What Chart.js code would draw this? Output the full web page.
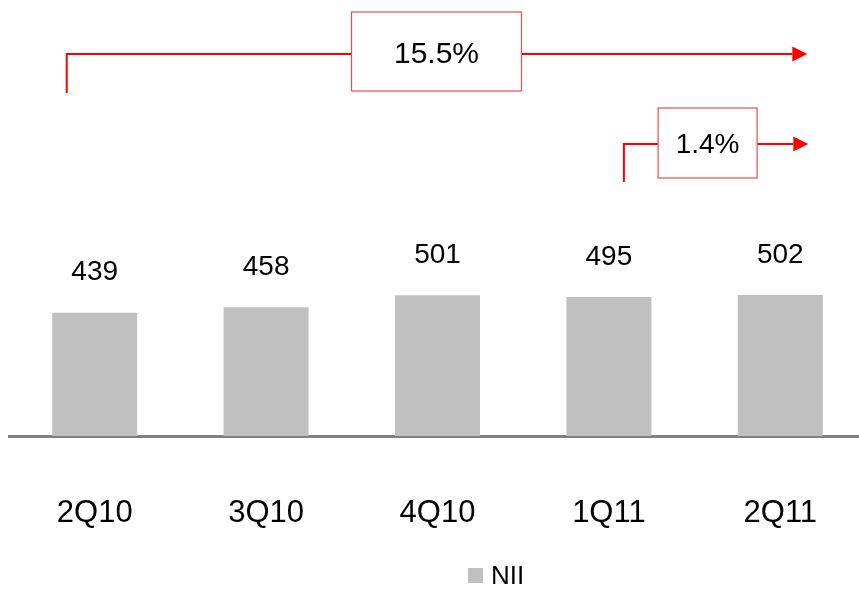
<!DOCTYPE html>
<html>
<head>
<meta charset="utf-8">
<title>NII</title>
<script src="https://cdn.jsdelivr.net/npm/chart.js@4/dist/chart.umd.min.js"></script>
<style>
  html, body { margin: 0; padding: 0; background: #fff; overflow: hidden; }
  #grafico { display: block; }
</style>
</head>
<body>
<canvas id="grafico" width="866" height="589"></canvas>
<script>
const trimestres = ['2Q10', '3Q10', '4Q10', '1Q11', '2Q11'];
const nii = [439, 458, 501, 495, 502];
const crescimento = ['15.5%', '1.4%'];

const FONTE = '"Liberation Sans", Arial, sans-serif';
const VERMELHO = '#ff0000';

// draws one growth bracket: elbow line, boxed text, arrow head
function desenhaSeta(ctx, o) {
    ctx.save();
    ctx.strokeStyle = VERMELHO;
    ctx.lineWidth = 2;
    ctx.beginPath();
    ctx.moveTo(o.x0, o.yBase);
    ctx.lineTo(o.x0, o.y);
    ctx.lineTo(o.boxL, o.y);
    ctx.moveTo(o.boxR, o.y);
    ctx.lineTo(o.tip - 15, o.y);
    ctx.stroke();

    ctx.fillStyle = VERMELHO;
    ctx.beginPath();
    ctx.moveTo(o.tip - 15, o.y - 7.5);
    ctx.lineTo(o.tip, o.y);
    ctx.lineTo(o.tip - 15, o.y + 7.5);
    ctx.closePath();
    ctx.fill();

    ctx.strokeStyle = '#f24a4a';
    ctx.lineWidth = 1.2;
    ctx.strokeRect(o.boxL, o.boxT, o.boxR - o.boxL, o.boxB - o.boxT);

    ctx.fillStyle = '#000';
    ctx.font = o.fonte + 'px ' + FONTE;
    ctx.textAlign = 'center';
    ctx.textBaseline = 'middle';
    ctx.fillText(o.texto, (o.boxL + o.boxR) / 2, o.y + 1);
    ctx.restore();
}

const extras = {
    id: 'extras',
    afterDatasetsDraw(chart) {
        const ctx = chart.ctx;
        const x = chart.scales.x;
        const meta = chart.getDatasetMeta(0);

        // value labels above bars
        ctx.save();
        ctx.fillStyle = '#000';
        ctx.font = '28px ' + FONTE;
        ctx.textAlign = 'center';
        ctx.textBaseline = 'middle';
        meta.data.forEach((barra, i) => {
            ctx.fillText(String(nii[i]), barra.x, barra.y - 40);
        });
        ctx.restore();

        const p0 = x.getPixelForValue(0);
        const p2 = x.getPixelForValue(2);
        const p3 = x.getPixelForValue(3);
        const p4 = x.getPixelForValue(4);

        desenhaSeta(ctx, {
            x0: p0 - 28, yBase: 93, y: 54, tip: p4 + 27,
            boxL: p2 - 86, boxR: p2 + 84, boxT: 12, boxB: 91,
            texto: crescimento[0], fonte: 30
        });
        const meio = (p3 + p4) / 2 + 13;
        desenhaSeta(ctx, {
            x0: p3 + 15, yBase: 182, y: 144, tip: p4 + 28,
            boxL: meio - 49.5, boxR: meio + 49.5, boxT: 108, boxB: 178,
            texto: crescimento[1], fonte: 28
        });

        // legend
        ctx.save();
        const ds = chart.data.datasets[0];
        ctx.fillStyle = ds.backgroundColor;
        ctx.fillRect(468, 568, 15, 15);
        ctx.fillStyle = '#000';
        ctx.font = '26px ' + FONTE;
        ctx.textAlign = 'left';
        ctx.textBaseline = 'middle';
        ctx.fillText(ds.label, 491, 577);
        ctx.restore();
    }
};

new Chart(document.getElementById('grafico').getContext('2d'), {
    type: 'bar',
    data: {
        labels: trimestres,
        datasets: [{
            label: 'NII',
            data: nii,
            backgroundColor: '#c0c0c0',
            categoryPercentage: 1,
            barPercentage: 0.496
        }]
    },
    options: {
        responsive: false,
        animation: false,
        layout: { padding: { top: 155, left: 9, right: 0, bottom: 0 } },
        plugins: {
            legend: { display: false },
            tooltip: { enabled: false }
        },
        scales: {
            x: {
                afterFit(escala) {
                    escala.height = 153;
                    escala.paddingLeft = 0;
                    escala.paddingRight = 0;
                },
                grid: { display: false, drawTicks: false },
                border: { display: true, color: '#808080', width: 3 },
                ticks: {
                    color: '#000',
                    padding: 59,
                    font: { family: FONTE, size: 31 }
                }
            },
            y: {
                display: false,
                min: 0,
                max: 1000
            }
        }
    },
    plugins: [extras]
});
</script>
</body>
</html>
